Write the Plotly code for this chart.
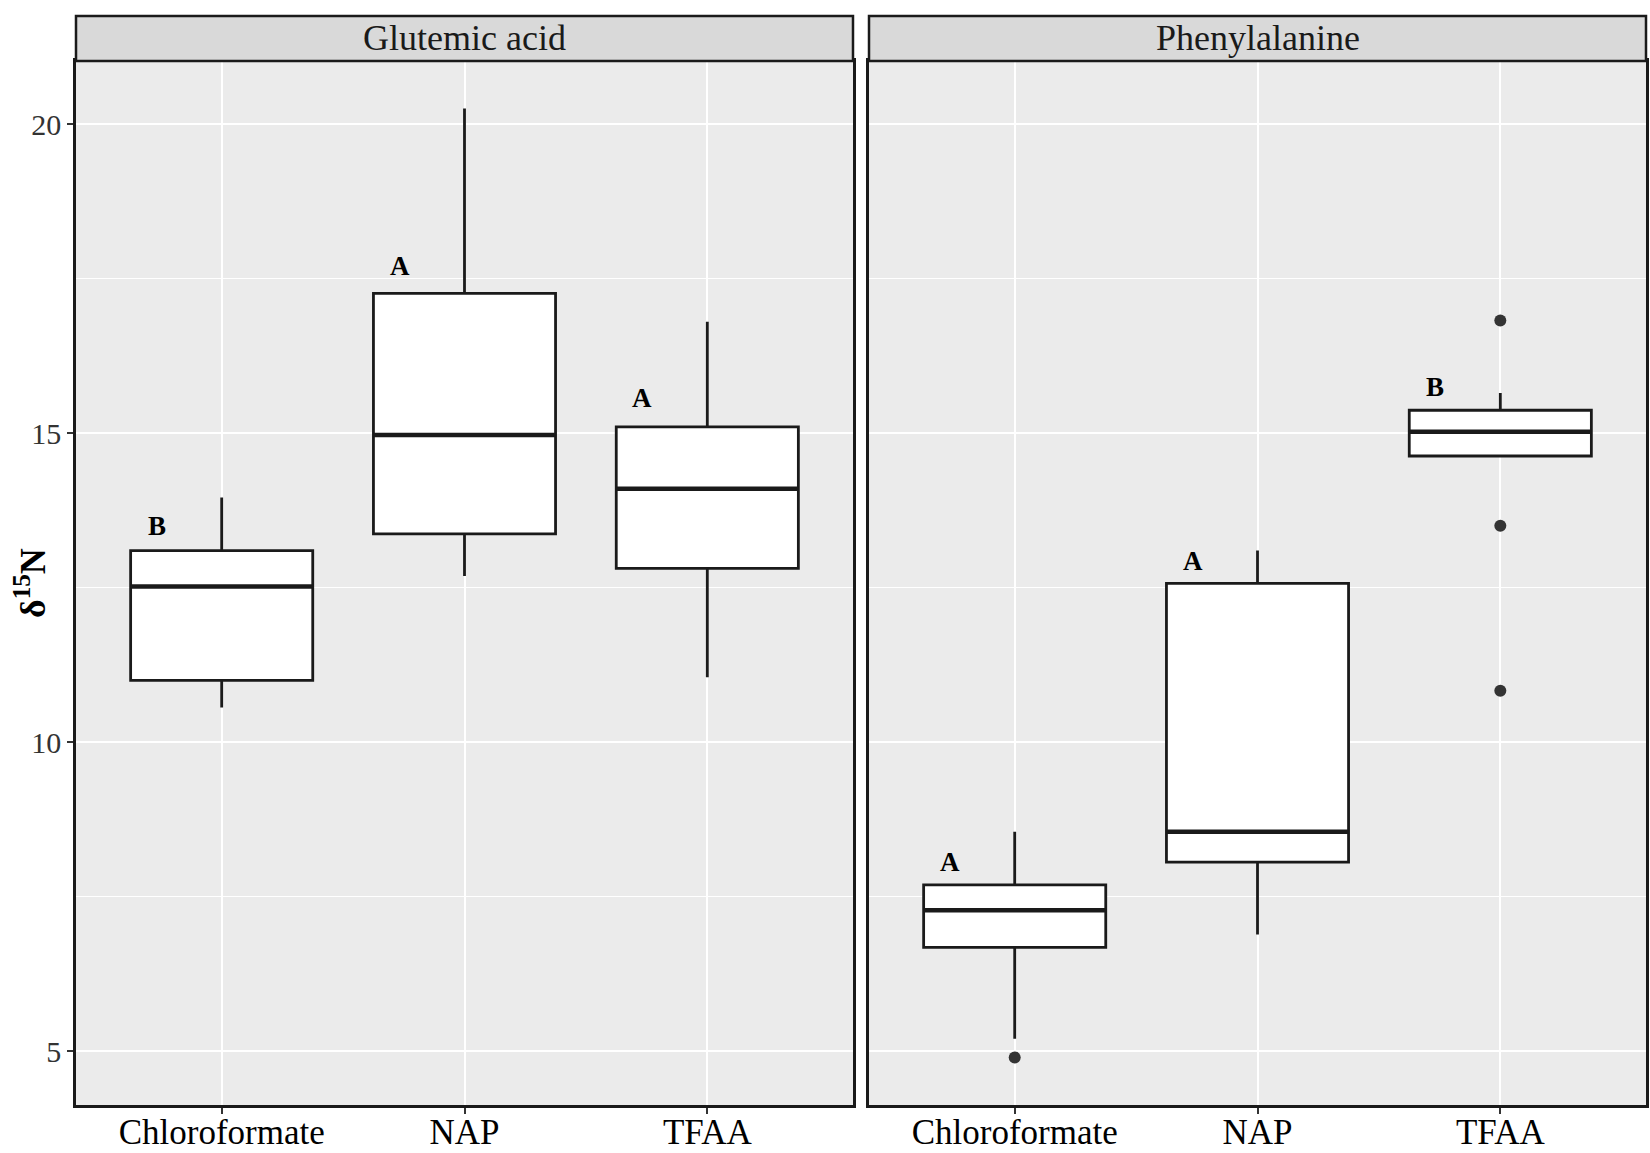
import plotly.graph_objects as go
from plotly.subplots import make_subplots

# Data
methods = ["Chloroformate", "NAP", "TFAA"]
panels = ["Glutemic acid", "Phenylalanine"]

glu_low = [10.56, 12.69, 11.05]
glu_q1 = [11.00, 13.37, 12.81]
glu_med = [12.52, 14.97, 14.10]
glu_q3 = [13.10, 17.26, 15.10]
glu_high = [13.96, 20.25, 16.80]
glu_letters = ["B", "A", "A"]
glu_letter_y = [13.50, 17.70, 15.56]

phe_low = [5.20, 6.89, 14.63]
phe_q1 = [6.68, 8.06, 14.63]
phe_med = [7.28, 8.55, 15.02]
phe_q3 = [7.69, 12.57, 15.37]
phe_high = [8.55, 13.10, 15.65]
phe_letters = ["A", "A", "B"]
phe_letter_y = [8.06, 12.93, 15.75]

# outliers (method, value)
phe_out_x = ["Chloroformate", "TFAA", "TFAA", "TFAA"]
phe_out_y = [4.90, 16.82, 13.50, 10.83]

FONT = "Liberation Serif"
BOX_W = 0.75
INK = "#1a1a1a"

fig = make_subplots(rows=1, cols=2, shared_yaxes=True, horizontal_spacing=0.0102)

groups = [
    (glu_low, glu_q1, glu_med, glu_q3, glu_high, glu_letters, glu_letter_y),
    (phe_low, phe_q1, phe_med, phe_q3, phe_high, phe_letters, phe_letter_y),
]

for col, (lo, q1, med, q3, hi, letters, ly) in enumerate(groups, start=1):
    fig.add_trace(go.Box(
        x=methods, q1=q1, median=med, q3=q3, lowerfence=lo, upperfence=hi,
        width=BOX_W, whiskerwidth=0, fillcolor="white",
        line=dict(color=INK, width=2.8), showlegend=False,
    ), row=1, col=col)
    xref = "x" if col == 1 else "x2"
    # thicker median lines like ggplot
    for i, m in enumerate(med):
        fig.add_shape(type="line", xref=xref, yref="y",
                      x0=i - BOX_W / 2, x1=i + BOX_W / 2, y0=m, y1=m,
                      line=dict(color=INK, width=4.5))
    for i, (t, y) in enumerate(zip(letters, ly)):
        fig.add_annotation(x=i - 0.267, y=y, xref=xref, yref="y", text="<b>%s</b>" % t,
                           showarrow=False, font=dict(family=FONT, size=27, color="black"),
                           xanchor="center", yanchor="middle")

fig.add_trace(go.Scatter(
    x=phe_out_x, y=phe_out_y, mode="markers",
    marker=dict(color="#333333", size=12), showlegend=False,
), row=1, col=2)

# facet strips
strip_h = 45 / 1044
for col, name in enumerate(panels, start=1):
    xd = "x domain" if col == 1 else "x2 domain"
    fig.add_shape(type="rect", xref=xd, yref="y domain", x0=0, x1=1, y0=1, y1=1 + strip_h,
                  fillcolor="#D9D9D9", line=dict(color=INK, width=2.5), layer="above")
    fig.add_annotation(xref=xd, yref="y domain", x=0.5, y=1 + strip_h / 2, text=name,
                       showarrow=False, xanchor="center", yanchor="middle",
                       font=dict(family=FONT, size=36, color=INK))

# y axis title
fig.add_annotation(xref="paper", yref="paper", x=0, y=0.5, xshift=-46, textangle=-90,
                   text="<b>δ<sup>15</sup>N</b>", showarrow=False,
                   xanchor="center", yanchor="middle",
                   font=dict(family=FONT, size=36, color="black"))

axis_common = dict(
    showline=True, linecolor=INK, linewidth=2.5, mirror=True, automargin=False,
    gridcolor="white", gridwidth=2.2, ticks="outside", ticklen=6, tickcolor="#333333",
    tickwidth=2, zeroline=False,
)
for ax in ["xaxis", "xaxis2"]:
    fig.layout[ax].update(
        type="category", categoryorder="array", categoryarray=methods,
        range=[-0.6, 2.6], tickfont=dict(family=FONT, size=35, color="black"),
        ticklabelstandoff=-12, **axis_common,
    )
for ax in ["yaxis", "yaxis2"]:
    fig.layout[ax].update(
        range=[4.13, 21.02], tickvals=[5, 10, 15, 20],
        tickfont=dict(family=FONT, size=30, color="#333333"),
        minor=dict(tickvals=[7.5, 12.5, 17.5], showgrid=True, gridcolor="white", gridwidth=1.2, ticks=""),
        **axis_common,
    )
# only the left facet carries the y axis ticks
fig.layout.yaxis2.ticks = ""

fig.update_layout(
    width=1650, height=1153,
    margin=dict(l=76, r=4, t=61, b=48),
    plot_bgcolor="#EBEBEB", paper_bgcolor="white",
    font=dict(family=FONT),
)

# drop the default page margin so the figure fills the window exactly
fig.write_html("out.html", config={"displayModeBar": False},
               post_script="document.body.style.margin='0';")
